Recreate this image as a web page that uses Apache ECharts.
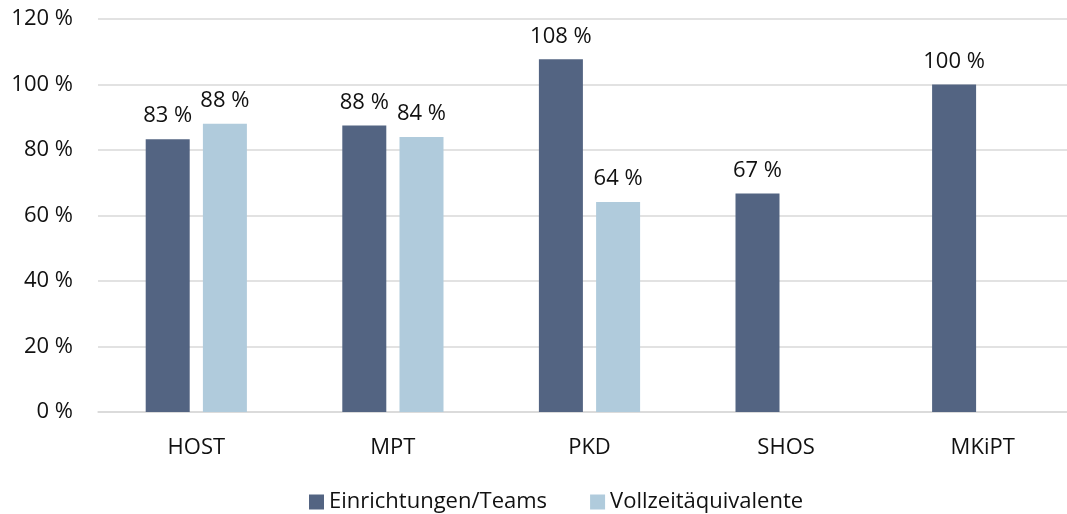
<!DOCTYPE html>
<html>
<head>
<meta charset="utf-8">
<script src="https://cdn.jsdelivr.net/npm/echarts@6/dist/echarts.min.js"></script>
<style>html,body{margin:0;padding:0;background:#fff}#c{width:1067px;height:514px}</style>
</head>
<body>
<div id="c"></div>
<script>
const categories = ['HOST', 'MPT', 'PKD', 'SHOS', 'MKiPT'];
const seriesNames = ['Einrichtungen/Teams', 'Vollzeitäquivalente'];
const einrichtungen = [83.3, 87.5, 107.7, 66.7, 100];
const vollzeit = [88, 84, 64.1, null, null];
const yTicks = [0, 20, 40, 60, 80, 100, 120];

const FONT = '"Open Sans", "Noto Sans", sans-serif';
const FS = 22;
const chart = echarts.init(document.getElementById('c'), null, {renderer: 'canvas'});
const labelCfg = {
  show: true, position: 'top', distance: 12,
  color: '#111', fontSize: FS, fontFamily: FONT,
  formatter: p => p.value == null ? '' : Math.round(p.value) + ' %'
};
chart.setOption({
  animation: false,
  textStyle: {fontFamily: FONT},
  grid: {left: 98, width: 983, top: 19, bottom: 102, containLabel: false, outerBoundsMode: 'none'},
  legend: {
    top: 486, left: 304, itemWidth: 15, itemHeight: 15, itemGap: 43,
    icon: 'rect',
    textStyle: {fontSize: FS, color: '#111', fontFamily: FONT},
    data: seriesNames
  },
  xAxis: {
    type: 'category', data: categories,
    axisLine: {lineStyle: {color: '#d9d9d9', width: 1.5}},
    axisTick: {show: false},
    axisLabel: {color: '#111', fontSize: FS, margin: 25, fontFamily: FONT}
  },
  yAxis: {
    type: 'value', min: yTicks[0], max: yTicks[yTicks.length - 1], interval: 20,
    axisLine: {show: false}, axisTick: {show: false},
    splitLine: {lineStyle: {color: '#d9d9d9', width: 1.5}},
    axisLabel: {color: '#111', fontSize: FS, margin: 25, fontFamily: FONT,
      formatter: v => v + ' %'}
  },
  series: [
    {name: seriesNames[0], type: 'bar', data: einrichtungen, barWidth: 44, barGap: '30%',
      itemStyle: {color: '#536482'}, label: labelCfg},
    {name: seriesNames[1], type: 'bar', data: vollzeit, barWidth: 44, barGap: '30%',
      itemStyle: {color: '#b0cbdc'}, label: labelCfg}
  ]
});
</script>
</body>
</html>
